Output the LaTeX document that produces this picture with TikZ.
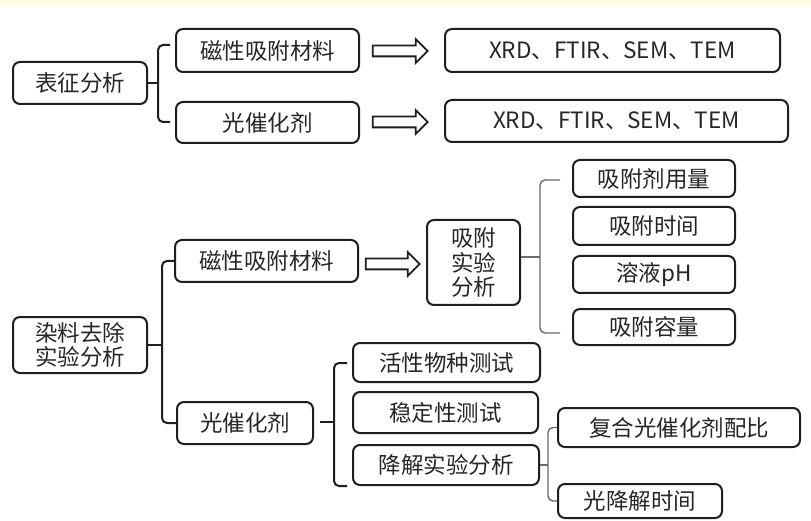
\documentclass[tikz,border=0pt]{standalone}
\usepackage{fontspec}
\newfontfamily\cjk{Noto Sans CJK SC}
\usetikzlibrary{shapes.arrows,calc}
\definecolor{ink}{HTML}{1E1E1E}
\definecolor{txt}{HTML}{262626}
\definecolor{brgray}{HTML}{6A6A6A}
\definecolor{band}{HTML}{FDFDE6}
\tikzset{
  box/.style={draw=ink, line width=2pt, rounded corners=7pt, inner sep=0pt,
    text=txt, align=center, font=\cjk\fontsize{22.5}{24.5}\selectfont},
  dblarrow/.style={single arrow, draw=ink, fill=white, line width=1.8pt,
    single arrow head extend=6.5pt, inner xsep=0pt, inner ysep=4.5pt,
    single arrow tip angle=90},
  tree/.style={draw=ink, line width=2pt, rounded corners=5pt},
  thinbrace/.style={draw=brgray, line width=1.4pt, rounded corners=5pt}
}
\begin{document}
\begin{tikzpicture}[x=1pt,y=-1pt]
\useasboundingbox (0,0) rectangle (811,521);
\fill[white] (0,0) rectangle (811,521);
\fill[band] (0,0) rectangle (811,5);

% --- 表征分析 ---
\node[box, minimum width=134pt, minimum height=42pt] (t1) at (80,83) {表征分析};
\node[box, minimum width=183pt, minimum height=43pt] (t2) at (267.5,50.5) {磁性吸附材料};
\node[box, minimum width=183pt, minimum height=41pt] (t3) at (267.5,122.5) {光催化剂};
\node[box, minimum width=335pt, minimum height=43pt] (t4) at (612.5,50.5) {XRD、FTIR、SEM、TEM};
\node[box, minimum width=343pt, minimum height=42pt] (t5) at (616.5,121) {XRD、FTIR、SEM、TEM};
\node[dblarrow, minimum height=55pt] (ar1) at (397.5,51) {};
\node[dblarrow, minimum height=55pt] (ar2) at (397.5,122) {};

\coordinate (b1x) at (158,83);
\coordinate (b1t) at (170,45);
\coordinate (b1b) at (170,122);
\draw[tree] (b1t) -| (b1x) |- (b1b);
\draw[tree] (t1.east) -- (b1x);

% --- 染料去除实验分析 ---
\node[box, minimum width=134pt, minimum height=56pt] (d1) at (80,345) {染料去除\\实验分析};
\node[box, minimum width=183pt, minimum height=42pt] (d2) at (266.5,261) {磁性吸附材料};
\node[box, minimum width=136pt, minimum height=42pt] (d3) at (245,423) {光催化剂};
\node[box, minimum width=93pt, minimum height=85pt] (d4) at (473.5,262.5) {吸附\\实验\\分析};
\node[dblarrow, minimum height=54pt] (ar3) at (390,264) {};

\coordinate (b2x) at (162,345);
\draw[tree] (d2.west) -| (b2x) |- (d3.west);
\draw[tree] (d1.east) -- (b2x);

% 吸附 branch
\node[box, minimum width=162pt, minimum height=37pt] (a1) at (654,178.5) {吸附剂用量};
\node[box, minimum width=162pt, minimum height=38pt] (a2) at (654,226) {吸附时间};
\node[box, minimum width=162pt, minimum height=37pt] (a3) at (654,274.5) {溶液pH};
\node[box, minimum width=162pt, minimum height=36pt] (a4) at (654,327) {吸附容量};
\coordinate (b3x) at (540,257);
\coordinate (b3t) at (560,180);
\coordinate (b3b) at (560,333);
\draw[thinbrace] (b3t) -| (b3x) |- (b3b);
\draw[thinbrace] (d4.east |- b3x) -- (b3x);

% 光催化剂 branch
\node[box, minimum width=187pt, minimum height=39pt] (p1) at (446.5,362.5) {活性物种测试};
\node[box, minimum width=185pt, minimum height=41pt] (p2) at (445.5,412.5) {稳定性测试};
\node[box, minimum width=186pt, minimum height=40pt] (p3) at (446,465) {降解实验分析};
\coordinate (b4x) at (334,422);
\coordinate (b4t) at (347,363);
\coordinate (b4b) at (347,486);
\coordinate (b4m) at (320,422);
\draw[tree] (b4t) -| (b4x) |- (b4b);
\draw[tree] (b4m) -- (b4x);

% 降解 branch
\node[box, minimum width=242pt, minimum height=39pt] (q1) at (679,427.5) {复合光催化剂配比};
\node[box, minimum width=164pt, minimum height=34pt] (q2) at (640,501) {光降解时间};
\coordinate (b5x) at (548,465);
\draw[thinbrace] (q1.west) -| (b5x) |- (q2.west);
\draw[thinbrace] (p3.east) -- (b5x);
\end{tikzpicture}
\end{document}
